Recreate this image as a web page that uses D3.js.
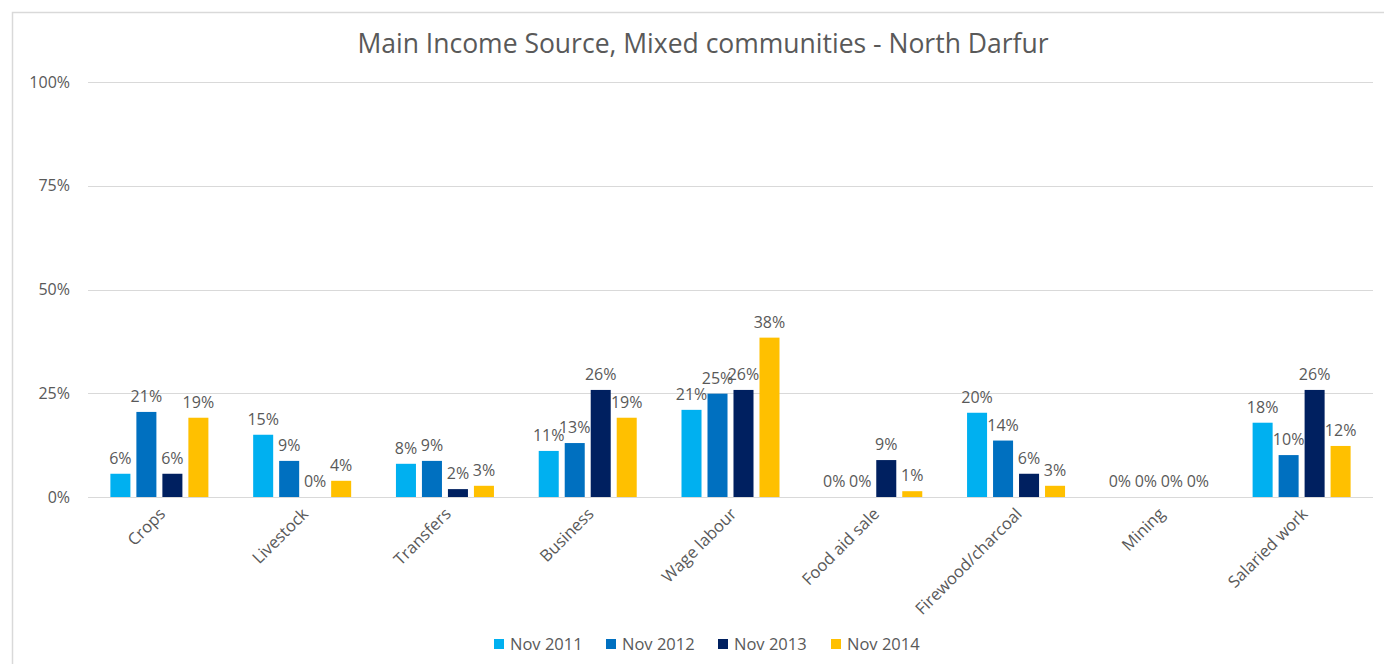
<!DOCTYPE html>
<html>
<head>
<meta charset="utf-8">
<script src="https://cdn.jsdelivr.net/npm/d3@7"></script>
<style>
  body { margin: 0; background: #fff; }
  svg { display: block; }
</style>
</head>
<body>
<div id="chart"></div>
<script>
// categories and series
var categories = ["Crops", "Livestock", "Transfers", "Business", "Wage labour",
    "Food aid sale", "Firewood/charcoal", "Mining", "Salaried work"]
var seriesNames = ["Nov 2011", "Nov 2012", "Nov 2013", "Nov 2014"]
var seriesColors = ["#00b0f0", "#0070c0", "#002060", "#ffc000"]

// values in percent, one array per series
var nov2011 = [5.6, 15.0, 8.0, 11.1, 21.0, 0, 20.3, 0, 17.9]
var nov2012 = [20.5, 8.7, 8.7, 13.0, 24.9, 0, 13.6, 0, 10.1]
var nov2013 = [5.6, 0, 1.9, 25.8, 25.8, 8.9, 5.6, 0, 25.8]
var nov2014 = [19.1, 3.9, 2.7, 19.1, 38.4, 1.4, 2.7, 0, 12.3]
var yTicks = [0, 25, 50, 75, 100]

var allSeries = [nov2011, nov2012, nov2013, nov2014]

drawChart()

function drawChart() {
    var w = 1384
    var h = 664
    // plot area
    var pLeft = 88, pRight = 1373, pTop = 82, pBottom = 497
    var groupW = 98
    var font = "'Open Sans', sans-serif"
    var textColor = "#595959"

    var svg = d3.select("#chart").append("svg")
        .attr("width", w).attr("height", h)

    // outer frame
    svg.append("rect")
        .attr("x", 12.5).attr("y", 12.5)
        .attr("width", w + 20).attr("height", h + 20)
        .attr("fill", "none").attr("stroke", "#d9d9d9").attr("stroke-width", 1.5)

    var x0 = d3.scaleBand().domain(categories).range([pLeft, pRight])
    var x1 = d3.scaleBand().domain(seriesNames).range([0, groupW]).paddingInner(0.23)
    var y = d3.scaleLinear().domain([0, 100]).range([pBottom, pTop])

    // gridlines
    svg.append("g").selectAll("line")
        .data(yTicks)
        .enter().append("line")
        .attr("x1", pLeft).attr("x2", pRight)
        .attr("y1", function(d) { return Math.round(y(d)) + 0.5 })
        .attr("y2", function(d) { return Math.round(y(d)) + 0.5 })
        .attr("stroke", "#d9d9d9").attr("stroke-width", 1)

    // y axis labels
    var yAxis = d3.axisLeft(y).tickValues(yTicks)
        .tickFormat(function(d) { return d + "%" }).tickSize(0).tickPadding(18)
    svg.append("g")
        .attr("transform", "translate(" + pLeft + ",0)")
        .call(yAxis)
        .call(function(g) { g.select(".domain").remove() })
        .selectAll("text")
        .attr("fill", textColor).attr("font-size", 16).attr("font-family", font)

    // title
    svg.append("text")
        .attr("x", 703).attr("y", 53)
        .attr("text-anchor", "middle")
        .attr("font-size", 26.5).attr("font-family", font)
        .attr("fill", textColor)
        .text("Main Income Source, Mixed communities - North Darfur")

    // bars
    var groups = svg.append("g").selectAll("g")
        .data(categories)
        .enter().append("g")
        .attr("transform", function(d) {
            return "translate(" + (x0(d) + x0.bandwidth() / 2 - groupW / 2) + ",0)"
        })

    groups.selectAll("rect")
        .data(function(d, i) {
            return seriesNames.map(function(s, j) {
                return { series: s, color: seriesColors[j], value: allSeries[j][i] }
            })
        })
        .enter().append("rect")
        .attr("x", function(d) { return x1(d.series) })
        .attr("width", x1.bandwidth())
        .attr("y", function(d) { return y(d.value) })
        .attr("height", function(d) { return pBottom - y(d.value) })
        .attr("fill", function(d) { return d.color })

    // value labels
    groups.selectAll("text")
        .data(function(d, i) {
            return seriesNames.map(function(s, j) {
                return { series: s, value: allSeries[j][i] }
            })
        })
        .enter().append("text")
        .attr("x", function(d) { return x1(d.series) + x1.bandwidth() / 2 })
        .attr("y", function(d) { return y(d.value) - 10 })
        .attr("text-anchor", "middle")
        .attr("font-size", 16).attr("font-family", font)
        .attr("fill", textColor)
        .text(function(d) { return Math.round(d.value) + "%" })

    // category labels, rotated
    var xAxis = d3.axisBottom(x0).tickSize(0).tickPadding(0)
    svg.append("g")
        .attr("transform", "translate(0," + pBottom + ")")
        .call(xAxis)
        .call(function(g) { g.select(".domain").remove() })
        .selectAll("text")
        .attr("fill", textColor).attr("font-size", 16.5).attr("font-family", font)
        .attr("text-anchor", "end")
        .attr("dy", null)
        .attr("transform", "translate(7,18) rotate(-45)")

    // legend
    var legend = svg.append("g").attr("transform", "translate(494,644)")
    var legendX = [0, 112, 224, 337]
    seriesNames.forEach(function(s, i) {
        legend.append("rect")
            .attr("x", legendX[i]).attr("y", -5)
            .attr("width", 10).attr("height", 10)
            .attr("fill", seriesColors[i])
        legend.append("text")
            .attr("x", legendX[i] + 16).attr("y", 0)
            .attr("dy", "0.35em")
            .attr("font-size", 16.5).attr("font-family", font)
            .attr("fill", textColor)
            .text(s)
    })
}
</script>
</body>
</html>
